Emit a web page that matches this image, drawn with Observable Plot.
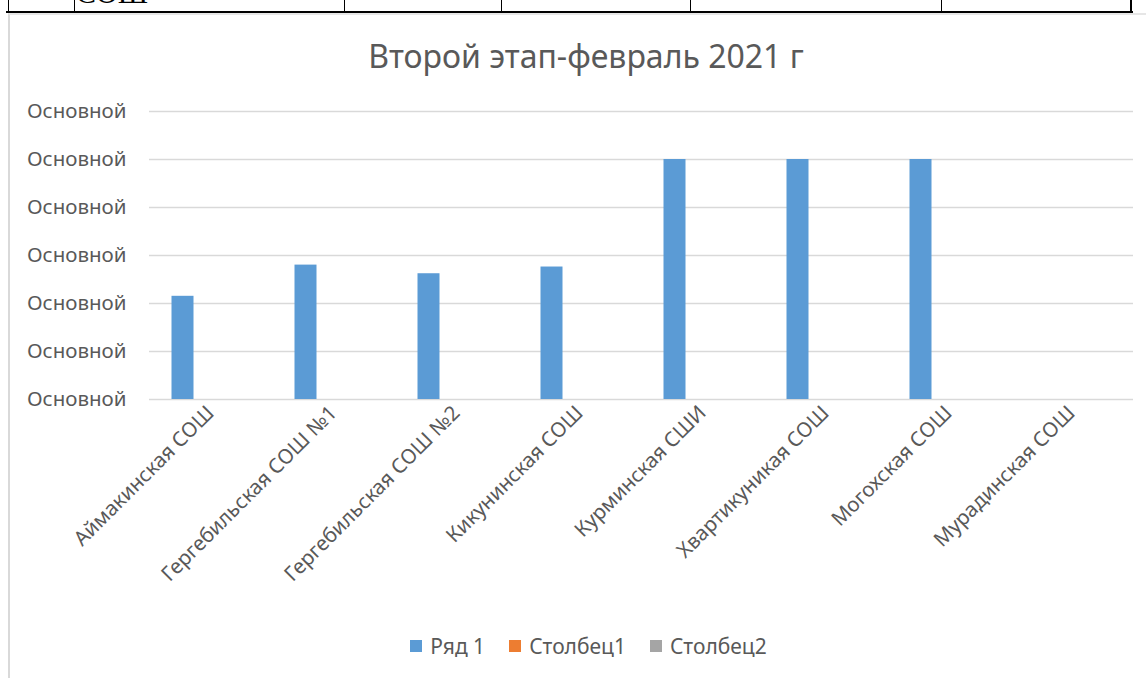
<!DOCTYPE html>
<html><head><meta charset="utf-8">
<script src="https://cdn.jsdelivr.net/npm/d3@7"></script>
<script src="https://cdn.jsdelivr.net/npm/@observablehq/plot@0.6"></script>
<style>
html,body{margin:0;padding:0;background:#fff}
body{font-family:"Noto Sans",sans-serif;width:1146px;height:678px;overflow:hidden;position:relative}
.abs{position:absolute}
.ln{position:absolute;background:#000}
#title{left:0;width:1172px;top:34px;text-align:center;font-size:32px;color:#595959;white-space:nowrap}
#legend{left:0;width:1177px;top:632px;display:flex;justify-content:center;gap:24px;font-size:21px;color:#595959}
#legend .it{display:flex;align-items:center;gap:8px}
#legend .sw{width:12px;height:12px;display:inline-block}
</style></head><body>
<div class="abs" style="left:8px;top:13px;width:1140px;height:680px;border-left:2px solid #d9d9d9;border-top:2px solid #e6e6e6"></div>
<div class="ln" style="left:6px;top:11px;width:1127px;height:2px"></div>
<div class="ln" style="left:8px;top:0;width:1px;height:12px"></div>
<div class="ln" style="left:74px;top:0;width:1px;height:12px"></div>
<div class="ln" style="left:344px;top:0;width:1px;height:12px"></div>
<div class="ln" style="left:501px;top:0;width:1px;height:12px"></div>
<div class="ln" style="left:690px;top:0;width:1px;height:12px"></div>
<div class="ln" style="left:941px;top:0;width:1px;height:12px"></div>
<div class="ln" style="left:1130px;top:0;width:2px;height:13px"></div>
<div class="abs" style="left:76px;top:-24px;font-family:'Liberation Serif',serif;font-size:30px;color:#000;overflow:hidden">СОШ</div>
<div id="title" class="abs">Второй этап-февраль 2021 г</div>
<div id="chart" class="abs" style="left:0;top:90px"></div>
<div id="legend" class="abs"></div>
<script>
const categories = ["Аймакинская СОШ","Гергебильская СОШ №1","Гергебильская СОШ №2","Кикунинская СОШ","Курминская СШИ","Хвартикуникая СОШ","Могохская СОШ","Мурадинская СОШ"];
const seriesNames = ["Ряд 1","Столбец1","Столбец2"];
const seriesColors = ["#5b9bd5","#ed7d31","#a5a5a5"];
const ryad1 = [2.15, 2.8, 2.62, 2.76, 5, 5, 5, null];
const stolbec1 = [null, null, null, null, null, null, null, null];
const stolbec2 = [null, null, null, null, null, null, null, null];
const yTicks = [0, 1, 2, 3, 4, 5, 6];
const yTickLabels = ["Основной","Основной","Основной","Основной","Основной","Основной","Основной"];

const seriesValues = [ryad1, stolbec1, stolbec2];
const table = [];
seriesNames.forEach((s, si) => categories.forEach((c, ci) => {
  const v = seriesValues[si][ci];
  if (v != null) table.push({category: c, series: s, value: v});
}));

const barW = 22;
const plot = Plot.plot({
  width: 1146,
  height: 489,
  marginLeft: 149,
  marginRight: 13,
  marginTop: 21,
  marginBottom: 180,
  x: {domain: categories, paddingInner: 0.821, paddingOuter: 0.4105, label: null, tickRotate: -45, tickSize: 0, tickPadding: 10},
  y: {domain: [0, 6], ticks: yTicks, tickFormat: (d) => yTickLabels[yTicks.indexOf(d)], label: null, tickSize: 0, tickPadding: 23},
  color: {domain: seriesNames, range: seriesColors},
  style: {fontFamily: "'Noto Sans', sans-serif", fontSize: "20.5px", color: "#595959", background: "transparent", overflow: "visible"},
  marks: [
    Plot.ruleY(yTicks, {stroke: "#d9d9d9", strokeWidth: 1.5}),
    ...seriesNames.map((s, i) => Plot.barY(table.filter(d => d.series === s), {x: "category", y: "value", fill: "series", dx: (i - 1) * barW - 5.5}))
  ]
});
document.getElementById("chart").appendChild(plot);

const lg = document.getElementById("legend");
seriesNames.forEach((s, i) => {
  const it = document.createElement("span"); it.className = "it";
  const sw = document.createElement("span"); sw.className = "sw"; sw.style.background = seriesColors[i];
  const tx = document.createElement("span"); tx.textContent = s;
  it.appendChild(sw); it.appendChild(tx); lg.appendChild(it);
});
</script>
</body></html>
